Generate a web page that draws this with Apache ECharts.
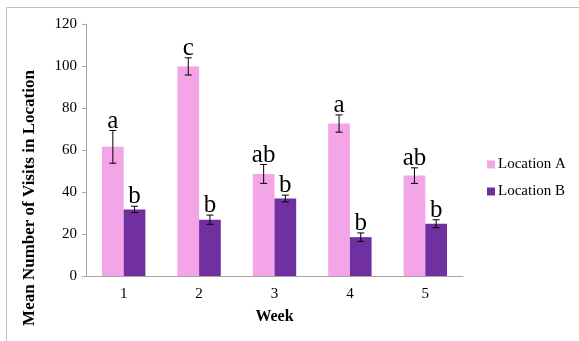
<!DOCTYPE html>
<html>
<head>
<meta charset="utf-8">
<script src="https://cdn.jsdelivr.net/npm/echarts@6/dist/echarts.min.js"></script>
<style>
  html, body { margin: 0; padding: 0; background: #fff; }
  #chart { width: 579px; height: 341px; }
</style>
</head>
<body>
<div id="chart"></div>
<script>
const weeks = ["1", "2", "3", "4", "5"];
const meanA = [61.5, 99.8, 48.6, 72.6, 47.8];
const errA = [7.8, 4.1, 4.5, 4.1, 3.7];
const meanB = [31.7, 26.8, 36.9, 18.5, 24.9];
const errB = [1.5, 2.2, 1.6, 2.0, 1.9];
const letterA = ["a", "c", "ab", "a", "ab"];
const letterB = ["b", "b", "b", "b", "b"];

const serif = "Liberation Serif";
const barW = 21.7;
const colA = "#f4a5e7";
const colB = "#7030a0";

const chart = echarts.init(document.getElementById("chart"), undefined, { renderer: "canvas" });

// error bar + significance letter, shifted onto its bar within the group
function errorItem(means, errs, letters, shift) {
  return function (params, api) {
    const i = params.dataIndex;
    const top = api.coord([i, means[i] + errs[i]]);
    const bot = api.coord([i, means[i] - errs[i]]);
    const x = top[0] + shift;
    const cap = 3.5;
    const st = { stroke: "#000", lineWidth: 1 };
    return {
      type: "group",
      children: [
        { type: "line", shape: { x1: x, y1: top[1], x2: x, y2: bot[1] }, style: st },
        { type: "line", shape: { x1: x - cap, y1: top[1], x2: x + cap, y2: top[1] }, style: st },
        { type: "line", shape: { x1: x - cap, y1: bot[1], x2: x + cap, y2: bot[1] }, style: st },
        {
          type: "text",
          x: x,
          y: top[1] + 3,
          style: {
            text: letters[i],
            fill: "#000",
            font: "25px " + serif,
            align: "center",
            verticalAlign: "bottom",
          },
        },
      ],
    };
  };
}

chart.setOption({
  animation: false,
  textStyle: { fontFamily: serif },
  grid: { left: 86, right: 116, top: 24, bottom: 65 },
  legend: {
    orient: "vertical",
    left: 482,
    top: 152,
    itemWidth: 8,
    itemHeight: 8,
    itemGap: 12,
    icon: "rect",
    textStyle: { fontFamily: serif, fontSize: 15, color: "#000", padding: [0, 0, 0, -2] },
    data: ["Location A", "Location B"],
  },
  xAxis: {
    type: "category",
    data: weeks,
    name: "Week",
    nameLocation: "middle",
    nameGap: 33,
    nameTextStyle: { fontFamily: serif, fontSize: 16, fontWeight: "bold", color: "#000" },
    axisLine: { lineStyle: { color: "#a6a6a6" } },
    axisTick: { length: 5, lineStyle: { color: "#a6a6a6" } },
    axisLabel: { fontFamily: serif, fontSize: 15, color: "#000", margin: 11 },
  },
  yAxis: {
    type: "value",
    min: 0,
    max: 120,
    interval: 20,
    axisLine: { show: true, lineStyle: { color: "#a6a6a6" } },
    axisTick: { show: true, length: 4, lineStyle: { color: "#a6a6a6" } },
    splitLine: { show: false },
    axisLabel: { fontFamily: serif, fontSize: 15, color: "#000", margin: 9 },
  },
  graphic: [
    {
      type: "rect",
      shape: { x: 6.5, y: 7.5, width: 800, height: 600 },
      style: { fill: "none", stroke: "#bfbfbf", lineWidth: 1 },
      silent: true,
    },
    {
      type: "text",
      x: 30,
      y: 198,
      rotation: Math.PI / 2,
      style: {
        text: "Mean Number of Visits in Location",
        font: "bold 17px " + serif,
        fill: "#000",
        align: "center",
        verticalAlign: "middle",
      },
      silent: true,
    },
  ],
  series: [
    { name: "Location A", type: "bar", data: meanA, barWidth: barW, barGap: "0%", itemStyle: { color: colA } },
    { name: "Location B", type: "bar", data: meanB, barWidth: barW, barGap: "0%", itemStyle: { color: colB } },
    {
      type: "custom",
      renderItem: errorItem(meanA, errA, letterA, -barW / 2),
      data: meanA.map((v, i) => [i, v + errA[i]]),
      encode: { x: 0, y: 1 },
      z: 5,
      silent: true,
    },
    {
      type: "custom",
      renderItem: errorItem(meanB, errB, letterB, barW / 2),
      data: meanB.map((v, i) => [i, v + errB[i]]),
      encode: { x: 0, y: 1 },
      z: 5,
      silent: true,
    },
  ],
});
</script>
</body>
</html>
